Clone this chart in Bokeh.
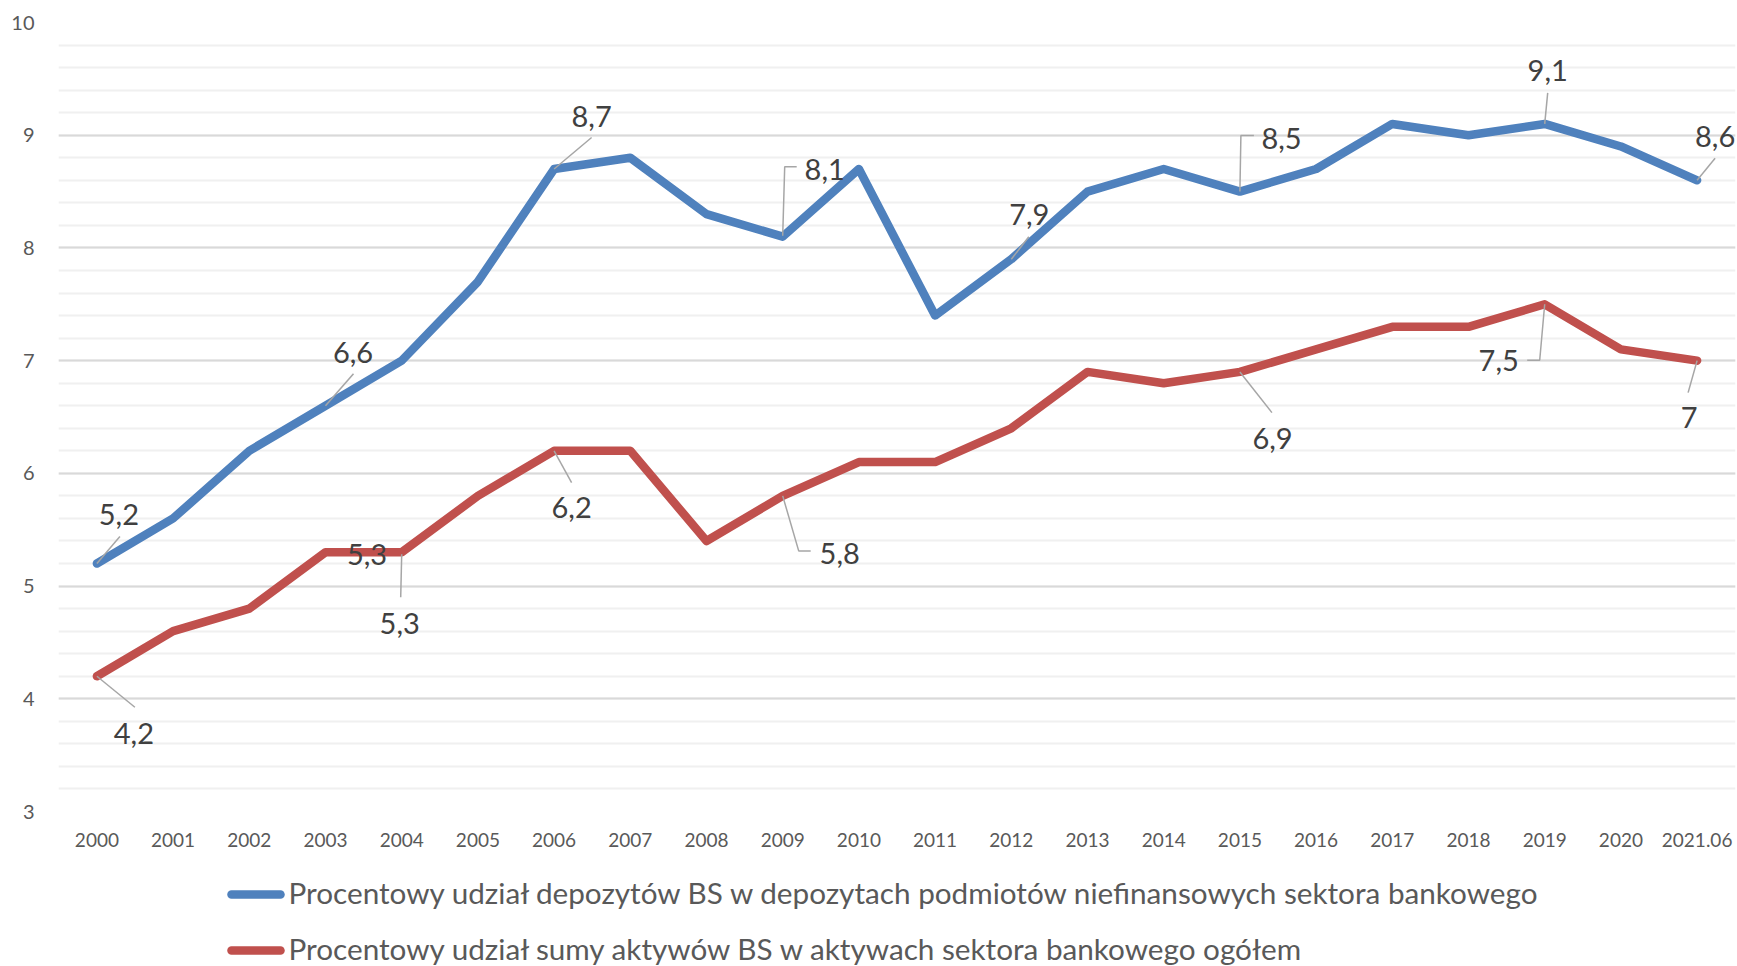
from bokeh.plotting import figure
from bokeh.layouts import column
from bokeh.models import (Range1d, FixedTicker, SingleIntervalTicker, ColumnDataSource)
from bokeh.core.properties import value
from bokeh.embed import file_html
from bokeh.resources import INLINE

# ---------------- data ----------------
categories = ["2000", "2001", "2002", "2003", "2004", "2005", "2006", "2007",
              "2008", "2009", "2010", "2011", "2012", "2013", "2014", "2015",
              "2016", "2017", "2018", "2019", "2020", "2021.06"]
deposits_share = [5.2, 5.6, 6.2, 6.6, 7.0, 7.7, 8.7, 8.8, 8.3, 8.1, 8.7,
                  7.4, 7.9, 8.5, 8.7, 8.5, 8.7, 9.1, 9.0, 9.1, 8.9, 8.6]
assets_share = [4.2, 4.6, 4.8, 5.3, 5.3, 5.8, 6.2, 6.2, 5.4, 5.8, 6.1,
                6.1, 6.4, 6.9, 6.8, 6.9, 7.1, 7.3, 7.3, 7.5, 7.1, 7.0]
series_names = [
    "Procentowy udział depozytów BS w depozytach podmiotów niefinansowych sektora bankowego",
    "Procentowy udział sumy aktywów BS w aktywach sektora bankowego ogółem",
]
deposits_labelled = [0, 3, 6, 9, 12, 15, 19, 21]
assets_labelled = [0, 3, 4, 6, 9, 15, 19, 21]
y_min, y_max = 3, 10

# ---------------- styling / layout ----------------
W = 1737
H_MAIN = 860
H_LEG = 966 - H_MAIN
LEFT, RIGHT, TOP = 58, 2, 22
FRAME_H = 789
BOTTOM = H_MAIN - TOP - FRAME_H
X_STEP = 76.2
X0 = 96.4
x_start = -(X0 - LEFT) / X_STEP
x_end = x_start + (W - LEFT - RIGHT) / X_STEP
Y_STEP = FRAME_H / (y_max - y_min)

BLUE = "#4F81BD"
RED = "#C0504D"
LEADER = "#A6A6A6"
TXT = "#404040"
AX = "#595959"
FONT = "Lato"
LW = 8.5

# label offsets in screen px (dx right, dy down) and leader polylines
deposits_label_off = [(22, -49), (27.5, -53), (37.5, -53), (42, -67),
                      (18, -45), (41.6, -53), (3, -53.6), (18, -44)]
deposits_leaders = [[(0, 0), (23, -27)], [(0, 0), (28, -32)],
                    [(0, 0), (37.5, -31.5)], [(0, -1), (2, -70), (14, -70)],
                    [(0, 0), (17.5, -22.4)], [(0, 0), (1, -56), (14, -56)],
                    [(0, 0), (3, -31)], [(0, 0), (18, -22)]]
assets_label_off = [(37, 57), (41.5, 2), (-2, 71), (17.5, 57), (57, 57.5),
                    (32.6, 66.5), (-46, 56.5), (-8, 56.7)]
assets_leaders = [[(0, 0), (38, 31)], None, [(0, 2), (-1, 45)],
                  [(0, 0), (17.5, 31.7)], [(0, 0), (16, 55), (28, 55)],
                  [(0, 0), (32, 40.7)], [(0, 0), (-5, 56), (-17.5, 56)],
                  [(0, 0), (-9, 32)]]


def fmt(v):
    return f"{v:g}".replace(".", ",")


p = figure(width=W, height=H_MAIN, output_backend="svg", toolbar_location=None,
           x_range=Range1d(x_start, x_end), y_range=Range1d(y_min, y_max),
           min_border_left=LEFT, min_border_right=RIGHT,
           min_border_top=TOP, min_border_bottom=BOTTOM)
p.outline_line_color = None
p.background_fill_color = "white"
p.border_fill_color = "white"

# grid
p.xgrid.visible = False
yt = SingleIntervalTicker(interval=1, num_minor_ticks=5)
p.yaxis.ticker = yt
p.ygrid.ticker = yt
p.ygrid.grid_line_color = "#D9D9D9"
p.ygrid.grid_line_width = 2
p.ygrid.minor_grid_line_color = "#F0F0F0"
p.ygrid.minor_grid_line_width = 2

# axes
xs_idx = list(range(len(categories)))
p.xaxis.ticker = FixedTicker(ticks=xs_idx)
p.xaxis.major_label_overrides = {i: c for i, c in enumerate(categories)}
for ax in (p.xaxis, p.yaxis):
    ax.axis_line_color = None
    ax.major_tick_line_color = None
    ax.minor_tick_line_color = None
    ax.major_tick_out = 0
    ax.minor_tick_out = 0
    ax.major_label_text_font = FONT
    ax.major_label_text_color = AX
p.xaxis.major_label_text_font_size = "19px"
p.yaxis.major_label_text_font_size = "20px"
p.xaxis.major_label_standoff = 21
p.yaxis.major_label_standoff = 24

# lines
r1 = p.line(xs_idx, deposits_share, line_color=BLUE, line_width=LW,
            line_join="round", line_cap="round")
r2 = p.line(xs_idx, assets_share, line_color=RED, line_width=LW,
            line_join="round", line_cap="round")


def leader_geom(idx_list, vals, leaders):
    lx, ly = [], []
    for k, i in enumerate(idx_list):
        pts = leaders[k]
        if pts is None:
            continue
        lx.append([i + dx / X_STEP for dx, dy in pts])
        ly.append([vals[i] - dy / Y_STEP for dx, dy in pts])
    return lx, ly


for idx_list, vals, leaders in ((deposits_labelled, deposits_share, deposits_leaders),
                                (assets_labelled, assets_share, assets_leaders)):
    lx, ly = leader_geom(idx_list, vals, leaders)
    p.multi_line(lx, ly, line_color=LEADER, line_width=1.5)

for idx_list, vals, offs in ((deposits_labelled, deposits_share, deposits_label_off),
                             (assets_labelled, assets_share, assets_label_off)):
    src = ColumnDataSource(dict(
        x=idx_list,
        y=[vals[i] for i in idx_list],
        t=[fmt(vals[i]) for i in idx_list],
        dx=[o[0] for o in offs],
        dy=[o[1] for o in offs],
    ))
    p.text(x="x", y="y", text="t", x_offset="dx", y_offset="dy", source=src,
           text_align="center", text_baseline="middle",
           text_font=value(FONT), text_font_size=value("29px"), text_color=TXT)

# ---------------- legend (separate strip, page-pixel coordinates) ----------------
leg = figure(width=W, height=H_LEG, output_backend="svg", toolbar_location=None,
             x_range=Range1d(LEFT, W - RIGHT), y_range=Range1d(H_LEG, 0),
             min_border_left=LEFT, min_border_right=RIGHT,
             min_border_top=0, min_border_bottom=0,
             x_axis_type=None, y_axis_type=None)
leg.outline_line_color = None
leg.grid.visible = False
leg.background_fill_color = "white"
leg.border_fill_color = "white"

leg_colors = [BLUE, RED]
leg_swatch_y = [34, 90]
for name, col, sy in zip(series_names, leg_colors, leg_swatch_y):
    leg.line([231, 280], [sy, sy], line_color=col, line_width=LW, line_cap="round")
    leg.text(x=[288], y=[sy - 2], text=[name], text_align="left",
             text_baseline="middle",
             text_font=value(FONT), text_font_size=value("29.7px"), text_color=AX)

layout = column(p, leg, spacing=0)
open("out.html", "w").write(file_html(layout, INLINE))
